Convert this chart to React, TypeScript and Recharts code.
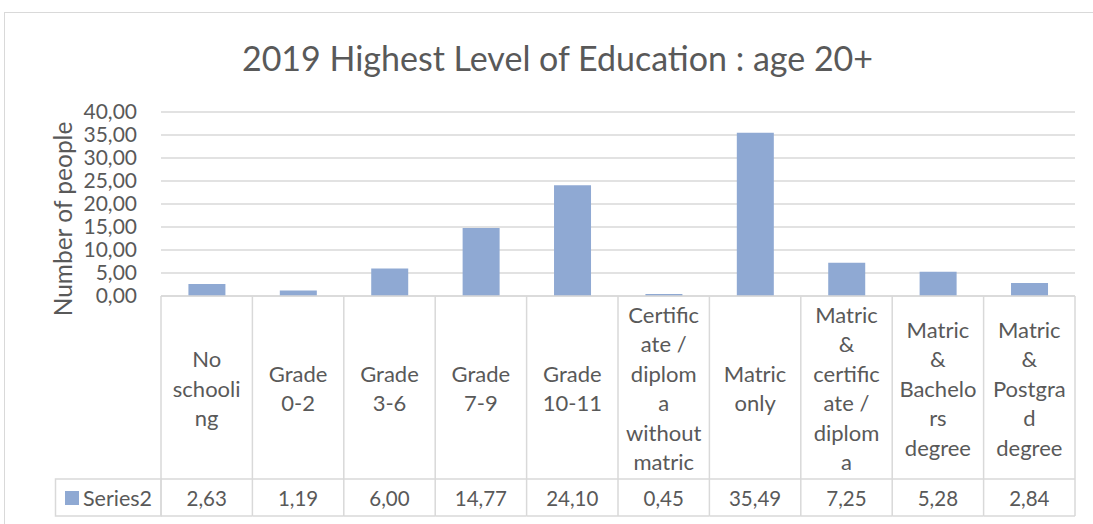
import { Bar, BarChart, CartesianGrid, XAxis, YAxis } from "recharts";

const categories = [
  "No schooling",
  "Grade 0-2",
  "Grade 3-6",
  "Grade 7-9",
  "Grade 10-11",
  "Certificate / diploma without matric",
  "Matric only",
  "Matric & certificate / diploma",
  "Matric & Bachelors degree",
  "Matric & Postgrad degree",
];

// how Excel wrapped the labels in the data table
const tickLines = [
  ["No", "schooli", "ng"],
  ["Grade", "0-2"],
  ["Grade", "3-6"],
  ["Grade", "7-9"],
  ["Grade", "10-11"],
  ["Certific", "ate /", "diplom", "a", "without", "matric"],
  ["Matric", "only"],
  ["Matric", "&", "certific", "ate /", "diplom", "a"],
  ["Matric", "&", "Bachelo", "rs", "degree"],
  ["Matric", "&", "Postgra", "d", "degree"],
];

const series2 = [2.63, 1.19, 6.0, 14.77, 24.1, 0.45, 35.49, 7.25, 5.28, 2.84];

const yTicks = [0, 5, 10, 15, 20, 25, 30, 35, 40];

const data = categories.map((name, i) => ({ name, value: series2[i] }));

const W = 1093;
const H = 524;
const PLOT_LEFT = 161;
const PLOT_RIGHT = 1075;
const PLOT_TOP = 112;
const AXIS_Y = 296;
const ROW_Y = 479;
const TABLE_BOTTOM = 516;
const BAND = (PLOT_RIGHT - PLOT_LEFT) / categories.length;

const FONT = "Lato, 'Noto Sans', sans-serif";
const TEXT = "#595959";
const GRID = "#d9d9d9";
const BAR = "#8fa9d3";

const fmt = (v: number) => v.toFixed(2).replace(".", ",");

const TableTick = (props: any) => {
  const { x, index } = props;
  const lines = tickLines[index] || [];
  const lh = 29.5;
  const mid = 388;
  const startY = mid - ((lines.length - 1) * lh) / 2;
  const left = x - BAND / 2;
  const right = x + BAND / 2;
  return (
    <g fontFamily={FONT} fill={TEXT}>
      {index === 0 && (
        <g>
          <line x1={left} y1={AXIS_Y} x2={left} y2={TABLE_BOTTOM} stroke={GRID} strokeWidth={1.5} />
          <rect x={55.5} y={ROW_Y} width={left - 55.5} height={TABLE_BOTTOM - ROW_Y} fill="none" stroke={GRID} strokeWidth={1.5} />
          <rect x={65} y={491} width={14} height={14} fill={BAR} />
          <text x={83} y={498} fontSize={21.5} dominantBaseline="central" fill={TEXT}>
            Series2
          </text>
        </g>
      )}
      <line x1={right} y1={AXIS_Y} x2={right} y2={TABLE_BOTTOM} stroke={GRID} strokeWidth={1.5} />
      <line x1={left} y1={ROW_Y} x2={right} y2={ROW_Y} stroke={GRID} strokeWidth={1.5} />
      <line x1={left} y1={TABLE_BOTTOM} x2={right} y2={TABLE_BOTTOM} stroke={GRID} strokeWidth={1.5} />
      {lines.map((l, i) => (
        <text key={i} x={x} y={startY + i * lh} fontSize={22} textAnchor="middle" dominantBaseline="central" fill={TEXT}>
          {l}
        </text>
      ))}
      <text x={x} y={498} fontSize={20.5} textAnchor="middle" dominantBaseline="central" fill={TEXT}>
        {fmt(series2[index])}
      </text>
    </g>
  );
};

export default function App() {
  return (
    <div style={{ position: "absolute", left: 0, top: 0, width: W, height: H, background: "#fff", overflow: "hidden" }}>
      <div
        style={{
          position: "absolute",
          left: 4,
          top: 12,
          width: W,
          height: H,
          border: `1.5px solid ${GRID}`,
          boxSizing: "border-box",
        }}
      />
      <div
        style={{
          position: "absolute",
          left: 0,
          width: 1115,
          top: 35,
          textAlign: "center",
          fontFamily: FONT,
          fontSize: 34,
          color: TEXT,
          lineHeight: "46px",
        }}
      >
        2019 Highest Level of Education : age 20+
      </div>
      <div
        style={{
          position: "absolute",
          left: 62,
          top: 219,
          transform: "translate(-50%, -50%) rotate(-90deg)",
          fontFamily: FONT,
          fontSize: 24.5,
          color: TEXT,
          whiteSpace: "nowrap",
        }}
      >
        Number of people
      </div>
      <div style={{ position: "absolute", left: 0, top: 0 }}>
        <BarChart
          width={W}
          height={H}
          data={data}
          margin={{ top: PLOT_TOP, right: W - PLOT_RIGHT, bottom: 0, left: 0 }}
          barCategoryGap="30%"
        >
          <CartesianGrid vertical={false} stroke={GRID} strokeWidth={1.5} />
          <XAxis
            dataKey="name"
            interval={0}
            height={H - AXIS_Y}
            tickLine={false}
            axisLine={{ stroke: GRID, strokeWidth: 1.5 }}
            tick={(p: any) => <TableTick {...p} />}
          />
          <YAxis
            width={PLOT_LEFT}
            domain={[0, 40]}
            ticks={yTicks}
            interval={0}
            tickFormatter={fmt}
            axisLine={false}
            tickLine={false}
            tickSize={0}
            tickMargin={24}
            tick={{ fontFamily: FONT, fontSize: 21, fill: TEXT }}
          />
          <Bar dataKey="value" fill={BAR} isAnimationActive={false} />
        </BarChart>
      </div>
    </div>
  );
}
